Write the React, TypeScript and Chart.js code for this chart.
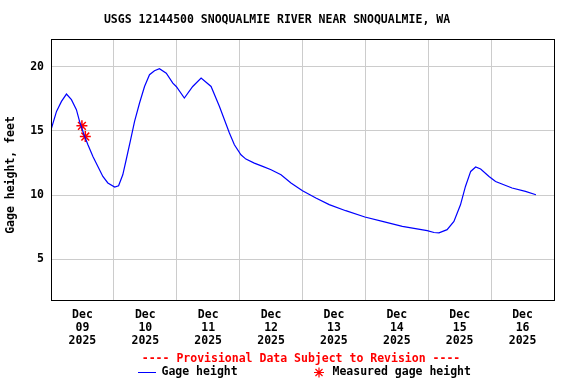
import React, { useEffect, useRef } from "react";
import { Chart, registerables } from "chart.js";

Chart.register(...registerables);

// ---- Data (hours since Dec 09 2025 00:00, gage height in feet) ----
const gageHours = [
  0, 2.1, 4.0, 5.9, 7.8, 9.7, 10.9, 12.6, 14.1, 16.0, 17.9, 19.8, 21.7, 24.3, 25.8,
  27.4, 28.7, 30.4, 31.9, 33.8, 35.7, 37.6, 39.5, 41.4, 44.0, 46.5, 47.8, 50.9, 54.1,
  57.3, 61.1, 64.3, 68.1, 70.0, 72.5, 74.4, 77.6, 80.8, 84.0, 87.8, 91.6, 96.0, 101.1,
  106.2, 112.5, 119.8, 126.5, 134.1, 143.6, 146.2, 148.1, 151.2, 153.8, 156.3, 158.2,
  160.2, 162.1, 164.0, 167.2, 169.7, 176.0, 181.1, 185.1,
];
const gageFeet = [
  15.09, 16.52, 17.3, 17.87, 17.43, 16.65, 15.74, 14.7, 13.92, 13.0, 12.23, 11.45, 10.94,
  10.62, 10.72, 11.58, 12.75, 14.31, 15.74, 17.17, 18.46, 19.38, 19.69, 19.84, 19.5,
  18.72, 18.46, 17.56, 18.46, 19.12, 18.46, 16.9, 14.83, 13.92, 13.14, 12.8, 12.49,
  12.23, 11.97, 11.58, 10.94, 10.34, 9.77, 9.25, 8.78, 8.29, 7.95, 7.56, 7.22, 7.08,
  7.05, 7.3, 7.94, 9.24, 10.67, 11.84, 12.18, 12.03, 11.45, 11.06, 10.55, 10.28, 10.02,
];
const measuredHours = [11.8, 13.1];
const measuredFeet = [15.39, 14.56];

const monthLabel = "Dec";
const yearLabel = "2025";
const dayLabels = ["09", "10", "11", "12", "13", "14", "15", "16"];
const yTicks = [5, 10, 15, 20];
const yMin = 1.82;
const yMax = 22.16;
const xMax = 192;

const titleText = "USGS 12144500 SNOQUALMIE RIVER NEAR SNOQUALMIE, WA";
const yTitle = "Gage height, feet";
const provisionalText = "---- Provisional Data Subject to Revision ----";
const gageLabel = "Gage height";
const measuredLabel = "Measured gage height";

const FONT = "'DejaVu Sans Mono', 'Liberation Mono', monospace";
const FSIZE = 11.5;

function drawStar(ctx: CanvasRenderingContext2D, x: number, y: number, r: number) {
  ctx.beginPath();
  for (let i = 0; i < 4; i++) {
    const a = (i * Math.PI) / 4;
    ctx.moveTo(x - Math.cos(a) * r, y - Math.sin(a) * r);
    ctx.lineTo(x + Math.cos(a) * r, y + Math.sin(a) * r);
  }
  ctx.stroke();
}

const decorPlugin = {
  id: "usgsDecor",
  afterDraw(chart: any) {
    const ctx: CanvasRenderingContext2D = chart.ctx;
    const a = chart.chartArea;
    ctx.save();
    // plot frame
    ctx.strokeStyle = "#000";
    ctx.lineWidth = 1;
    ctx.strokeRect(Math.round(a.left) + 0.5, Math.round(a.top) + 0.5,
      Math.round(a.right) - Math.round(a.left), Math.round(a.bottom) - Math.round(a.top));

    ctx.font = `bold ${FSIZE}px ${FONT}`;
    // y axis title
    ctx.save();
    ctx.translate(11.5, 175);
    ctx.rotate(-Math.PI / 2);
    ctx.textAlign = "center";
    ctx.textBaseline = "middle";
    ctx.fillStyle = "#000";
    ctx.fillText(yTitle, 0, 0);
    ctx.restore();

    // provisional note
    ctx.textAlign = "center";
    ctx.textBaseline = "middle";
    ctx.fillStyle = "#ff0000";
    ctx.fillText(provisionalText, 301, 359);

    // legend
    const ly = 372.5;
    ctx.strokeStyle = "#0000ff";
    ctx.lineWidth = 1;
    ctx.beginPath();
    ctx.moveTo(138, ly);
    ctx.lineTo(156, ly);
    ctx.stroke();
    ctx.fillStyle = "#000";
    ctx.textAlign = "left";
    ctx.fillText(gageLabel, 161.5, ly);

    ctx.strokeStyle = "#ff0000";
    ctx.lineWidth = 1.2;
    drawStar(ctx, 319, ly, 5);
    ctx.fillStyle = "#000";
    ctx.fillText(measuredLabel, 332.5, ly);
    ctx.restore();
  },
};

export default function App() {
  const ref = useRef<HTMLCanvasElement | null>(null);

  useEffect(() => {
    if (!ref.current) return;
    const chart = new Chart(ref.current, {
      type: "line",
      data: {
        datasets: [
          {
            label: gageLabel,
            data: gageHours.map((h, i) => ({ x: h, y: gageFeet[i] })),
            borderColor: "#0000ff",
            backgroundColor: "#0000ff",
            borderWidth: 1.2,
            pointRadius: 0,
            tension: 0,
            fill: false,
          },
          {
            label: measuredLabel,
            data: measuredHours.map((h, i) => ({ x: h, y: measuredFeet[i] })),
            showLine: false,
            pointStyle: "star",
            pointRadius: 5.5,
            borderColor: "#ff0000",
            backgroundColor: "#ff0000",
            pointBorderWidth: 1.5,
          },
        ],
      },
      plugins: [decorPlugin],
      options: {
        responsive: false,
        animation: false,
        events: [],
        layout: { padding: { left: 0, right: 22, top: 0, bottom: 0 } },
        plugins: {
          legend: { display: false },
          tooltip: { enabled: false },
          title: {
            display: true,
            text: titleText,
            color: "#000",
            font: { family: FONT, size: FSIZE, weight: "bold", lineHeight: 1.2 },
            padding: { top: 13.4, bottom: 11.8 },
          },
        },
        scales: {
          x: {
            type: "linear",
            min: 0,
            max: xMax,
            afterBuildTicks: (s: any) => {
              const t = [];
              for (let v = 0; v <= xMax; v += 12) t.push({ value: v });
              s.ticks = t;
            },
            afterFit: (s: any) => {
              s.height = 84;
            },
            border: { display: false },
            grid: {
              drawTicks: false,
              color: (c: any) =>
                c.tick && c.tick.value % 24 === 0 ? "#cccccc" : "rgba(0,0,0,0)",
              lineWidth: 1,
            },
            ticks: {
              autoSkip: false,
              maxRotation: 0,
              minRotation: 0,
              padding: 8,
              color: "#000",
              font: { family: FONT, size: FSIZE, weight: "bold", lineHeight: 1.16 },
              callback: (v: any) => {
                const n = Number(v);
                if (n % 24 !== 12) return "";
                const d = dayLabels[Math.floor(n / 24)];
                return [monthLabel, d, yearLabel];
              },
            },
          },
          y: {
            type: "linear",
            min: yMin,
            max: yMax,
            afterBuildTicks: (s: any) => {
              s.ticks = yTicks.map((v) => ({ value: v }));
            },
            afterFit: (s: any) => {
              s.width = 51;
            },
            border: { display: false },
            grid: { drawTicks: false, color: "#cccccc", lineWidth: 1 },
            ticks: {
              padding: 7,
              color: "#000",
              font: { family: FONT, size: FSIZE, weight: "bold" },
              callback: (v: any) => String(v),
            },
          },
        },
      },
    } as any);
    return () => chart.destroy();
  }, []);

  return (
    <div style={{ position: "absolute", left: 0, top: 0, width: 576, height: 384, background: "#fff" }}>
      <canvas ref={ref} width={576} height={384} style={{ display: "block" }} />
    </div>
  );
}
